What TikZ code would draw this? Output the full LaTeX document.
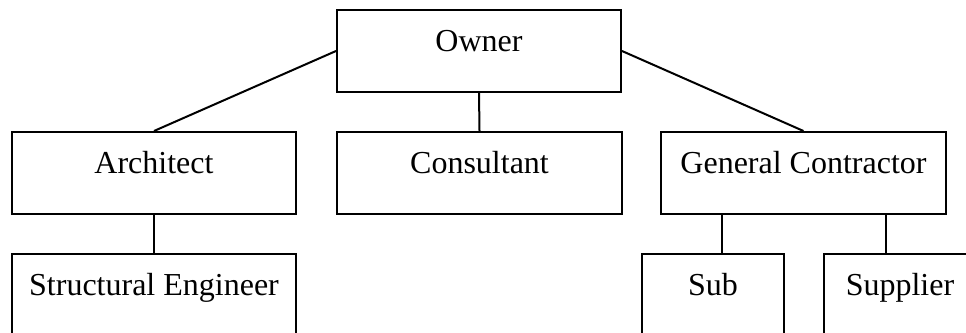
\documentclass[tikz,border=0pt]{standalone}
\usepackage{fontspec}
\setmainfont{Liberation Serif}
\usetikzlibrary{calc}
\begin{document}
\begin{tikzpicture}[x=0.75pt,y=-0.75pt,
  orgbox/.style={draw, line width=1.5pt, rectangle, anchor=north west,
    inner xsep=0pt, inner ysep=0pt, text height=30.75pt, text depth=30.75pt,
    font=\fontsize{24pt}{28pt}\selectfont},
  link/.style={line width=1.5pt}]
\useasboundingbox (0,0) rectangle (966,332);
\clip (0,0) rectangle (966,332);
\node[orgbox, minimum width=213pt] (owner) at (336,9) {Owner};
\node[orgbox, minimum width=213pt] (arch) at (11,131) {Architect};
\node[orgbox, minimum width=213.75pt] (cons) at (336,131) {Consultant};
\node[orgbox, minimum width=213.75pt] (gc) at (660,131) {General Contractor};
\node[orgbox, minimum width=213pt] (se) at (11,253) {Structural Engineer};
\node[orgbox, minimum width=106.5pt] (sub) at (641,253) {Sub};
\node[orgbox, minimum width=114pt] (sup) at (823,253) {Supplier};
\draw[link] (owner.west) -- (arch.north);
\draw[link] (owner.east) -- (gc.north);
\draw[link] (owner.south) -- (cons.north);
\draw[link] (arch.south) -- (se.north);
\coordinate (g1) at ($(gc.south west)+(61.7,0)$);
\coordinate (g2) at ($(gc.south east)+(-61.5,0)$);
\draw[link] (g1) -- (g1 |- sub.north);
\draw[link] (g2) -- (g2 |- sup.north);
\end{tikzpicture}
\end{document}
